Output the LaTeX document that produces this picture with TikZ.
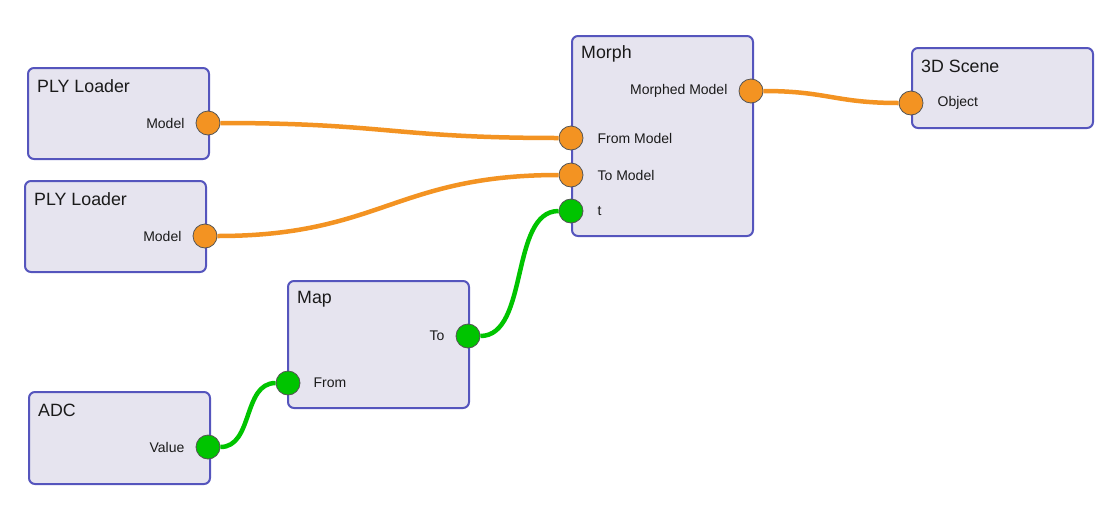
\documentclass[tikz,border=0pt]{standalone}
\usepackage{fontspec}
\setmainfont{Liberation Sans}
\usetikzlibrary{positioning}

\definecolor{boxfill}{HTML}{E6E4EF}
\definecolor{boxline}{HTML}{5555BD}
\definecolor{orangeport}{HTML}{F39322}
\definecolor{greenport}{HTML}{00C400}
\definecolor{portline}{HTML}{555555}
\definecolor{labeltext}{HTML}{1A1A1A}

\tikzset{
  block/.style = {draw=boxline, fill=boxfill, line width=2pt, rounded corners=6pt,
                  anchor=north west, minimum width=181pt, inner sep=0pt},
  title/.style = {anchor=west, font=\fontsize{17.8}{20}\selectfont, text=labeltext, inner sep=0pt},
  plabel/.style = {font=\fontsize{14}{16}\selectfont, text=labeltext, inner sep=0pt},
  oport/.style = {circle, draw=portline, line width=0.8pt, fill=orangeport, minimum size=24pt, inner sep=0pt},
  gport/.style = {circle, draw=portline, line width=0.8pt, fill=greenport, minimum size=24pt, inner sep=0pt},
  owire/.style = {draw=orangeport, line width=4.5pt},
  gwire/.style = {draw=greenport, line width=4.5pt}
}

\begin{document}
\begin{tikzpicture}[x=1pt, y=-1pt]
\useasboundingbox (0,0) rectangle (1115,517);

% blocks
\node[block, minimum height=91pt] (ply1) at (27,67) {};
\node[title] at ([shift={(10pt,-19pt)}]ply1.north west) {PLY Loader};
\node[block, minimum height=91pt] (ply2) at (24,180) {};
\node[title] at ([shift={(10pt,-19pt)}]ply2.north west) {PLY Loader};
\node[block, minimum height=200pt] (morph) at (571,35) {};
\node[title] at ([shift={(10pt,-19pt)}]morph.north west) {Morph};
\node[block, minimum height=80pt] (scene) at (911,47) {};
\node[title] at ([shift={(10pt,-19pt)}]scene.north west) {3D Scene};
\node[block, minimum height=127pt] (map) at (287,280) {};
\node[title] at ([shift={(10pt,-19pt)}]map.north west) {Map};
\node[block, minimum height=92pt] (adc) at (28,391) {};
\node[title] at ([shift={(10pt,-19pt)}]adc.north west) {ADC};

% ports
\node[oport] (ply1out) at (208,123) {};
\node[plabel, left=11pt of ply1out] {Model};
\node[oport] (ply2out) at (205,236) {};
\node[plabel, left=11pt of ply2out] {Model};
\node[oport] (morphout) at (751,91) {};
\node[plabel, left=11pt of morphout] {Morphed Model};
\node[oport] (frommodel) at (571,138) {};
\node[plabel, right=14pt of frommodel] {From Model};
\node[oport] (tomodel) at (571,175) {};
\node[plabel, right=14pt of tomodel] {To Model};
\node[gport] (tin) at (571,211) {};
\node[plabel, right=14pt of tin] {t};
\node[oport] (object) at (911,103) {};
\node[plabel, right=14pt of object] {Object};
\node[gport] (mapto) at (468,336) {};
\node[plabel, left=11pt of mapto] {To};
\node[gport] (mapfrom) at (288,383) {};
\node[plabel, right=13pt of mapfrom] {From};
\node[gport] (value) at (208,447) {};
\node[plabel, left=11pt of value] {Value};

% wires
\draw[owire] (ply1out) to[out=0, in=180, looseness=1.25] (frommodel);
\draw[owire] (ply2out) to[out=0, in=180, looseness=1.2] (tomodel);
\draw[owire] (morphout) to[out=0, in=180, looseness=1.2] (object);
\draw[gwire] (mapto) to[out=0, in=180, looseness=0.85] (tin);
\draw[gwire] (value) to[out=0, in=180] (mapfrom);

\end{tikzpicture}
\end{document}
